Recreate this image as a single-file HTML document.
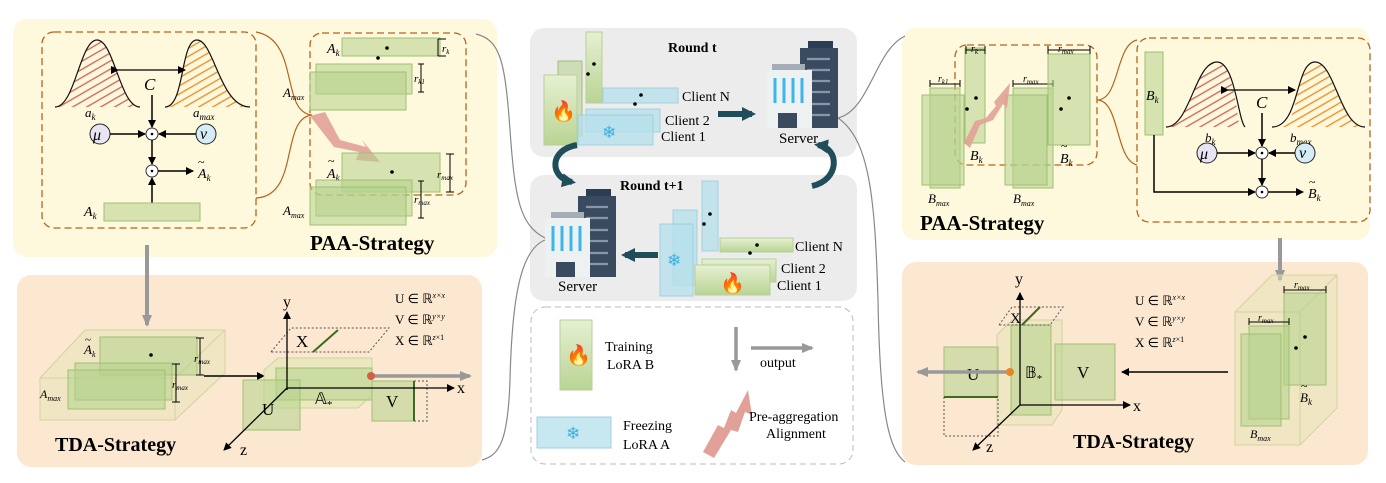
<!DOCTYPE html>
<html><head><meta charset="utf-8"><style>
html,body{margin:0;padding:0;background:#fff;}
svg{display:block;font-family:"Liberation Serif",serif;}
.g{fill:#b5d28c;fill-opacity:.55;stroke:#9fc072;stroke-width:1;}
.b{fill:#b5e0ec;fill-opacity:.75;stroke:#9fd0e0;stroke-width:1;}
.it{font-style:italic;}
</style></head><body>
<svg width="1386" height="483" viewBox="0 0 1386 483" xmlns="http://www.w3.org/2000/svg">
<defs>
<marker id="ah" markerWidth="8" markerHeight="8" refX="7" refY="4" orient="auto" markerUnits="userSpaceOnUse"><path d="M0,0 L8,4 L0,8 z" fill="#000"/></marker>
<marker id="ahg" markerWidth="12" markerHeight="10" refX="10" refY="5" orient="auto" markerUnits="userSpaceOnUse"><path d="M0,0 L12,5 L0,10 z" fill="#999"/></marker>
<marker id="aht" markerWidth="14" markerHeight="14" refX="10" refY="7" orient="auto" markerUnits="userSpaceOnUse"><path d="M0,0 L14,7 L0,14 z" fill="#1f4e5a"/></marker>
<pattern id="hr" width="7" height="7" patternUnits="userSpaceOnUse" patternTransform="rotate(-30)"><line x1="0" y1="3" x2="7" y2="3" stroke="#d0605a" stroke-width="1.3"/></pattern>
<pattern id="ho" width="7" height="7" patternUnits="userSpaceOnUse" patternTransform="rotate(-30)"><line x1="0" y1="3" x2="7" y2="3" stroke="#f08a20" stroke-width="1.3"/></pattern>
<linearGradient id="gg" x1="0" y1="0" x2="0" y2="1"><stop offset="0" stop-color="#e6f0d2"/><stop offset="1" stop-color="#b9d494"/></linearGradient>
</defs>

<!-- panels -->
<rect x="13" y="19" width="484" height="238" rx="14" fill="#fef8dc"/>
<rect x="17" y="275" width="465" height="192" rx="14" fill="#fce8d0"/>
<rect x="530" y="28" width="327" height="129" rx="14" fill="#ececec"/>
<rect x="530" y="175" width="327" height="126" rx="14" fill="#ececec"/>
<rect x="531" y="307" width="322" height="157" rx="14" fill="none" stroke="#bbb" stroke-dasharray="6,4"/>
<rect x="902" y="28" width="468" height="212" rx="14" fill="#fef8dc"/>
<rect x="902" y="262" width="466" height="203" rx="14" fill="#fce8d0"/>

<!-- gray connectors -->
<path d="M476,34 C500,40 505,60 510,130 C515,200 520,225 545,238" fill="none" stroke="#888" stroke-width="1.2"/>
<path d="M545,240 C520,250 512,300 510,380 C508,440 500,455 482,460" fill="none" stroke="#888" stroke-width="1.2"/>
<path d="M838,118 C870,110 875,50 905,36" fill="none" stroke="#888" stroke-width="1.2"/>
<path d="M838,118 C870,140 875,200 878,300 C880,420 890,450 905,462" fill="none" stroke="#888" stroke-width="1.2"/>

<!-- LEFT TOP -->
<rect x="42" y="32" width="214" height="196" rx="12" fill="none" stroke="#b5651d" stroke-width="1.3" stroke-dasharray="7,4"/>
<path d="M55,107 C75,107 80,40 97,40 C114,40 120,107 140,107 Z" fill="url(#hr)"/>
<path d="M55,107 C75,107 80,40 97,40 C114,40 120,107 140,107" fill="none" stroke="#111" stroke-width="1.2"/>
<path d="M165,107 C185,107 180,40 197,40 C214,40 220,107 250,107 Z" fill="url(#ho)"/>
<path d="M165,107 C185,107 180,40 197,40 C214,40 220,107 250,107" fill="none" stroke="#111" stroke-width="1.2"/>
<line x1="118" y1="70" x2="185" y2="70" stroke="#000" stroke-width="1.3" marker-end="url(#ah)" marker-start="url(#ah)"/>
<text x="144" y="90" font-size="17" class="it">C</text>
<text x="85" y="117" font-size="13" class="it">a<tspan font-size="9" dy="3">k</tspan></text>
<text x="193" y="117" font-size="13" class="it">a<tspan font-size="9" dy="3">max</tspan></text>
<line x1="152" y1="95" x2="152" y2="127" stroke="#000" stroke-width="1.5" marker-end="url(#ah)"/>
<circle cx="100" cy="134" r="10" fill="#e8e4f4" stroke="#222"/><text x="93" y="140" font-size="16" class="it">μ</text>
<circle cx="206" cy="134" r="10" fill="#d6ecf6" stroke="#222"/><text x="200" y="139" font-size="16" class="it">ν</text>
<line x1="110" y1="134" x2="145" y2="134" stroke="#000" stroke-width="1.5" marker-end="url(#ah)"/>
<line x1="196" y1="134" x2="159" y2="134" stroke="#000" stroke-width="1.5" marker-end="url(#ah)"/>
<circle cx="152" cy="134" r="6" fill="#fff" stroke="#333"/><circle cx="152" cy="134" r="1.3"/>
<line x1="152" y1="140" x2="152" y2="164" stroke="#000" stroke-width="1.5" marker-end="url(#ah)"/>
<circle cx="152" cy="171" r="6" fill="#fff" stroke="#333"/><circle cx="152" cy="171" r="1.3"/>
<line x1="158" y1="171" x2="193" y2="171" stroke="#000" stroke-width="1.5" marker-end="url(#ah)"/>
<text x="198" y="178" font-size="14" class="it">A<tspan font-size="9" dy="3">k</tspan></text><text x="198" y="166" font-size="12">~</text>
<line x1="152" y1="203" x2="152" y2="178" stroke="#000" stroke-width="1.5" marker-end="url(#ah)"/>
<rect x="104" y="203" width="96" height="18" class="g"/>
<text x="84" y="216" font-size="14" class="it">A<tspan font-size="9" dy="3">k</tspan></text>
<path d="M256,32 C300,40 280,112 312,115 C280,118 300,196 256,198" fill="none" stroke="#b5651d" stroke-width="1.2"/>
<rect x="310" y="33" width="156" height="162" rx="12" fill="none" stroke="#b5651d" stroke-width="1.3" stroke-dasharray="7,4"/>
<rect x="342" y="38" width="98" height="18" class="g"/>
<text x="327" y="53" font-size="14" class="it">A<tspan font-size="9" dy="3">k</tspan></text>
<circle cx="387" cy="48" r="1.8"/><circle cx="378" cy="58" r="1.8"/>
<path d="M438,39v17M438,39h8M438,56h8" stroke="#000" fill="none"/><text x="442" y="52" font-size="11" class="it">r<tspan font-size="7" dy="2">k</tspan></text>
<rect x="316" y="64" width="96" height="30" class="g"/><rect x="310" y="72" width="96" height="38" class="g"/>
<path d="M418,64h6M421,64v28M418,92h6" stroke="#000" fill="none"/><text x="414" y="82" font-size="11" class="it">r<tspan font-size="7" dy="2">k1</tspan></text>
<text x="283" y="97" font-size="13" class="it">A<tspan font-size="8" dy="3">max</tspan></text>
<path d="M310,116 L325,112 L340,140 L366,147 L362,140 L380,162 L356,160 L359,152 L334,147 Z" fill="#e2a198" opacity=".9"/>
<rect x="342" y="153" width="98" height="39" class="g"/><circle cx="392" cy="172" r="1.8"/>
<text x="327" y="178" font-size="14" class="it">A<tspan font-size="9" dy="3">k</tspan></text><text x="328" y="165" font-size="12">~</text>
<path d="M446,154h8M450,154v38M446,192h8" stroke="#000" fill="none"/><text x="437" y="178" font-size="11" class="it">r<tspan font-size="7" dy="2">max</tspan></text>
<rect x="316" y="180" width="96" height="36" class="g"/><rect x="310" y="187" width="96" height="38" class="g"/>
<path d="M418,181h6M421,181v37M418,218h6" stroke="#000" fill="none"/><text x="414" y="203" font-size="11" class="it">r<tspan font-size="7" dy="2">max</tspan></text>
<text x="283" y="215" font-size="13" class="it">A<tspan font-size="8" dy="3">max</tspan></text>
<text x="310" y="250" font-size="21" font-weight="bold">PAA-Strategy</text>
<line x1="147" y1="245" x2="147" y2="325" stroke="#999" stroke-width="4" marker-end="url(#ahg)"/>

<!-- LEFT BOTTOM -->
<path d="M40,378 L85,330 L225,330 L225,373 L175,420 L40,420 Z" fill="#e4e4b6" fill-opacity=".5" stroke="#d2d2a0"/>
<path d="M40,378 H175 V420 M175,378 L225,330" fill="none" stroke="#d2d2a0"/>
<rect x="100" y="337" width="97" height="38" class="g"/>
<rect x="75" y="363" width="97" height="37" class="g"/><rect x="68" y="370" width="97" height="39" class="g"/>
<circle cx="151" cy="355" r="1.8"/>
<text x="84" y="354" font-size="13" class="it">A<tspan font-size="8" dy="3">k</tspan></text><text x="85" y="343" font-size="11">~</text>
<text x="40" y="398" font-size="12" class="it">A<tspan font-size="8" dy="3">max</tspan></text>
<path d="M196,338h8M200,338v37M196,375h8" stroke="#000" fill="none"/><text x="194" y="362" font-size="11" class="it">r<tspan font-size="7" dy="2">max</tspan></text>
<path d="M172,364h8M176,364v38M172,402h8" stroke="#000" fill="none"/><text x="172" y="388" font-size="11" class="it">r<tspan font-size="7" dy="2">max</tspan></text>
<line x1="204" y1="376" x2="264" y2="376" stroke="#000" stroke-width="1.5" marker-end="url(#ah)"/>
<path d="M264,370 L278,358 L372,358 L372,395 L358,408 L264,408 Z" fill="#dfe7b4" fill-opacity=".6" stroke="#cbd6a0"/>
<rect x="276" y="368" width="96" height="32" class="g"/>
<path d="M271,352 L291,328 L389,328 L369,352 Z" fill="none" stroke="#555" stroke-dasharray="2,2"/>
<line x1="313" y1="352" x2="338" y2="330" stroke="#3a6b1f" stroke-width="2"/>
<text x="296" y="347" font-size="17">X</text>
<rect x="243" y="380" width="57" height="50" class="g"/>
<rect x="372" y="381" width="42" height="40" class="g"/>
<path d="M414,381 H427 V421 H414" fill="none" stroke="#555" stroke-dasharray="2,2"/>
<line x1="414" y1="381" x2="414" y2="421" stroke="#3a6b1f" stroke-width="2"/>
<line x1="287" y1="390" x2="287" y2="312" stroke="#000" stroke-width="1.3" marker-end="url(#ah)"/>
<text x="283" y="307" font-size="16">y</text>
<line x1="287" y1="388" x2="454" y2="388" stroke="#000" stroke-width="1.3" marker-end="url(#ah)"/>
<text x="457" y="393" font-size="16">x</text>
<line x1="287" y1="388" x2="224" y2="450" stroke="#000" stroke-width="1.3" marker-end="url(#ah)"/>
<text x="240" y="455" font-size="16">z</text>
<text x="315" y="404" font-size="16">𝔸<tspan font-size="11" dy="4">*</tspan></text>
<text x="262" y="415" font-size="17">U</text><text x="386" y="407" font-size="17">V</text>
<line x1="371" y1="376" x2="470" y2="376" stroke="#999" stroke-width="3.5" marker-end="url(#ahg)"/>
<circle cx="371" cy="376" r="4" fill="#d0604a"/>
<text x="395" y="303" font-size="13">U ∈ ℝ<tspan font-size="8" dy="-5" class="it">x×x</tspan></text>
<text x="395" y="324" font-size="13">V ∈ ℝ<tspan font-size="8" dy="-5" class="it">y×y</tspan></text>
<text x="395" y="345" font-size="13">X ∈ ℝ<tspan font-size="8" dy="-5"><tspan class="it">z</tspan>×1</tspan></text>
<text x="55" y="451" font-size="20" font-weight="bold">TDA-Strategy</text>

<!-- CENTER Round t -->
<text x="668" y="52" font-size="14" font-weight="bold">Round t</text>
<rect x="558" y="61" width="24" height="75" class="g" fill="url(#gg)"/>
<rect x="586" y="32" width="16" height="71" fill="url(#gg)" stroke="#b7cf98"/>
<circle cx="594" cy="64" r="1.8"/><circle cx="588" cy="74" r="1.8"/>
<rect x="544" y="75" width="33" height="70" fill="url(#gg)" stroke="#b7cf98"/>
<text x="551" y="118" font-size="20" fill="#f05a24">🔥</text>
<rect x="603" y="88" width="75" height="15" class="b"/>
<circle cx="641" cy="95" r="1.8"/><circle cx="635" cy="104" r="1.8"/>
<rect x="586" y="109" width="74" height="23" class="b"/><rect x="578" y="115" width="75" height="30" class="b"/>
<text x="602" y="138" font-size="17" fill="#3ab0e0">❄</text>
<text x="682" y="101" font-size="14">Client N</text>
<text x="665" y="125" font-size="14">Client 2</text>
<text x="661" y="141" font-size="14">Client 1</text>
<line x1="718" y1="114" x2="752" y2="114" stroke="#1f4e5a" stroke-width="6" marker-end="url(#aht)"/>
<!-- server t -->
<rect x="808" y="41" width="25" height="8" fill="#2b3d52"/>
<rect x="800" y="48" width="38" height="80" fill="#3a4b60"/>
<g stroke="#8796a8" stroke-width="2.2"><line x1="807" y1="59" x2="830" y2="59"/><line x1="807" y1="70" x2="830" y2="70"/><line x1="807" y1="81" x2="830" y2="81"/><line x1="807" y1="92" x2="830" y2="92"/><line x1="807" y1="104" x2="830" y2="104"/><line x1="807" y1="115" x2="830" y2="115"/></g>
<rect x="772" y="64" width="33" height="7" fill="#a5adb6"/>
<rect x="767" y="70" width="45" height="58" fill="#eef1f2"/>
<g stroke="#3bb6ea" stroke-width="3"><line x1="775" y1="78" x2="775" y2="103"/><line x1="784" y1="78" x2="784" y2="103"/><line x1="793" y1="78" x2="793" y2="103"/><line x1="802" y1="78" x2="802" y2="103"/></g>
<rect x="778" y="113" width="19" height="15" fill="#3a4b60"/>
<text x="779" y="143" font-size="15">Server</text>
<!-- curved arrows -->
<path d="M577,145 C548,150 550,178 572,182" fill="none" stroke="#1f4e5a" stroke-width="6" marker-end="url(#aht)"/>
<path d="M812,186 C840,180 840,148 818,145" fill="none" stroke="#1f4e5a" stroke-width="6" marker-end="url(#aht)"/>

<!-- Round t+1 -->
<text x="620" y="190" font-size="14" font-weight="bold">Round t+1</text>
<rect x="586" y="189" width="25" height="8" fill="#2b3d52"/>
<rect x="578" y="196" width="38" height="81" fill="#3a4b60"/>
<g stroke="#8796a8" stroke-width="2.2"><line x1="586" y1="207" x2="608" y2="207"/><line x1="586" y1="218" x2="608" y2="218"/><line x1="586" y1="230" x2="608" y2="230"/><line x1="586" y1="241" x2="608" y2="241"/><line x1="586" y1="253" x2="608" y2="253"/><line x1="586" y1="264" x2="608" y2="264"/></g>
<rect x="551" y="212" width="33" height="7" fill="#a5adb6"/>
<rect x="545" y="218" width="45" height="59" fill="#eef1f2"/>
<g stroke="#3bb6ea" stroke-width="3"><line x1="553" y1="226" x2="553" y2="251"/><line x1="562" y1="226" x2="562" y2="251"/><line x1="571" y1="226" x2="571" y2="251"/><line x1="580" y1="226" x2="580" y2="251"/></g>
<rect x="556" y="262" width="19" height="15" fill="#3a4b60"/>
<text x="558" y="291" font-size="15">Server</text>
<line x1="658" y1="255" x2="625" y2="255" stroke="#1f4e5a" stroke-width="6" marker-end="url(#aht)"/>
<rect x="673" y="210" width="24" height="75" class="b"/>
<rect x="702" y="181" width="16" height="70" class="b"/>
<circle cx="710" cy="214" r="1.8"/><circle cx="704" cy="224" r="1.8"/>
<rect x="660" y="224" width="33" height="72" class="b"/>
<text x="667" y="266" font-size="17" fill="#3ab0e0">❄</text>
<rect x="720" y="238" width="73" height="14" fill="url(#gg)" stroke="#b7cf98"/>
<circle cx="757" cy="245" r="1.8"/><circle cx="750" cy="253" r="1.8"/>
<rect x="702" y="259" width="74" height="23" fill="url(#gg)" stroke="#b7cf98"/>
<rect x="695" y="265" width="75" height="30" fill="url(#gg)" stroke="#b7cf98"/>
<text x="720" y="290" font-size="20" fill="#f05a24">🔥</text>
<text x="795" y="251" font-size="14">Client N</text>
<text x="781" y="273" font-size="14">Client 2</text>
<text x="777" y="290" font-size="14">Client 1</text>

<!-- legend -->
<rect x="560" y="320" width="32" height="70" fill="url(#gg)" stroke="#b7cf98"/>
<text x="566" y="362" font-size="20" fill="#f05a24">🔥</text>
<text x="605" y="351" font-size="14">Training</text><text x="607" y="369" font-size="14">LoRA B</text>
<rect x="537" y="417" width="74" height="31" class="b"/>
<text x="566" y="439" font-size="17" fill="#3ab0e0">❄</text>
<text x="623" y="430" font-size="14">Freezing</text><text x="623" y="449" font-size="14">LoRA A</text>
<line x1="736" y1="327" x2="736" y2="370" stroke="#999" stroke-width="3.5" marker-end="url(#ahg)"/>
<line x1="751" y1="348" x2="812" y2="348" stroke="#999" stroke-width="3.5" marker-end="url(#ahg)"/>
<text x="760" y="367" font-size="14">output</text>
<path d="M703,452 L718,425 L724,428 L731,410 L736,413 L748,390 L752,415 L745,412 L738,432 L731,430 L714,458 Z" fill="#e2a198"/>
<text x="749" y="421" font-size="14">Pre-aggregation</text><text x="766" y="438" font-size="14">Alignment</text>

<!-- RIGHT TOP -->
<rect x="955" y="45" width="142" height="120" rx="12" fill="none" stroke="#b5651d" stroke-width="1.3" stroke-dasharray="7,4"/>
<rect x="930" y="88" width="30" height="100" class="g"/><rect x="922" y="95" width="42" height="90" class="g"/>
<path d="M930,80v7M930,84h30M960,80v7" stroke="#000" fill="none"/><text x="938" y="82" font-size="10" class="it">r<tspan font-size="7" dy="2">k1</tspan></text>
<rect x="965" y="48" width="20" height="95" class="g"/>
<path d="M966,46v8M966,50h19M985,46v8" stroke="#000" fill="none"/><text x="971" y="52" font-size="10" class="it">r<tspan font-size="7" dy="2">k</tspan></text>
<circle cx="976" cy="98" r="1.8"/><circle cx="967" cy="109" r="1.8"/>
<rect x="1013" y="88" width="40" height="100" class="g"/><rect x="1005" y="95" width="42" height="90" class="g"/>
<path d="M1013,80v7M1013,84h40M1053,80v7" stroke="#000" fill="none"/><text x="1023" y="82" font-size="10" class="it">r<tspan font-size="7" dy="2">max</tspan></text>
<rect x="1048" y="54" width="42" height="91" class="g"/>
<path d="M1048,46v8M1048,50h42M1090,46v8" stroke="#000" fill="none"/><text x="1058" y="52" font-size="10" class="it">r<tspan font-size="7" dy="2">max</tspan></text>
<circle cx="1069" cy="98" r="1.8"/><circle cx="1061" cy="109" r="1.8"/>
<path d="M964,143 L975,121 L986,118 L996,106 L994,102 L1010,83 L1007,108 L1003,104 L993,120 L980,125 L970,148 Z" fill="#e2a198" opacity=".9"/>
<text x="970" y="160" font-size="14" class="it">B<tspan font-size="9" dy="3">k</tspan></text>
<text x="1060" y="163" font-size="14" class="it">B<tspan font-size="9" dy="3">k</tspan></text><text x="1061" y="150" font-size="12">~</text>
<text x="928" y="203" font-size="13" class="it">B<tspan font-size="8" dy="3">max</tspan></text>
<text x="1013" y="203" font-size="13" class="it">B<tspan font-size="8" dy="3">max</tspan></text>
<text x="920" y="230" font-size="21" font-weight="bold">PAA-Strategy</text>
<path d="M1097,100 C1120,100 1115,45 1137,40 M1097,100 C1120,100 1115,160 1137,165" fill="none" stroke="#b5651d" stroke-width="1.2"/>
<rect x="1137" y="38" width="233" height="184" rx="12" fill="none" stroke="#b5651d" stroke-width="1.3" stroke-dasharray="7,4"/>
<rect x="1145" y="52" width="18" height="83" class="g"/>
<text x="1146" y="100" font-size="14" class="it">B<tspan font-size="9" dy="3">k</tspan></text>
<path d="M1167,127 C1190,127 1195,62 1217,62 C1235,62 1238,127 1240,127 Z" fill="url(#hr)"/>
<path d="M1166,127 C1190,127 1195,62 1217,62 C1235,62 1238,120 1245,127" fill="none" stroke="#111" stroke-width="1.2"/>
<path d="M1280,127 C1300,127 1295,62 1315,62 C1335,62 1340,127 1365,127 Z" fill="url(#ho)"/>
<path d="M1272,127 C1300,127 1295,62 1315,62 C1335,62 1340,127 1365,127" fill="none" stroke="#111" stroke-width="1.2"/>
<line x1="1228" y1="90" x2="1295" y2="90" stroke="#000" stroke-width="1.3" marker-end="url(#ah)" marker-start="url(#ah)"/>
<text x="1256" y="108" font-size="17" class="it">C</text>
<text x="1205" y="142" font-size="13" class="it">b<tspan font-size="9" dy="3">k</tspan></text>
<text x="1290" y="142" font-size="13" class="it">b<tspan font-size="9" dy="3">max</tspan></text>
<line x1="1262" y1="113" x2="1262" y2="146" stroke="#000" stroke-width="1.5" marker-end="url(#ah)"/>
<circle cx="1207" cy="153" r="10" fill="#e8e4f4" stroke="#222"/><text x="1200" y="159" font-size="16" class="it">μ</text>
<circle cx="1305" cy="153" r="10" fill="#d6ecf6" stroke="#222"/><text x="1299" y="158" font-size="16" class="it">ν</text>
<line x1="1217" y1="153" x2="1255" y2="153" stroke="#000" stroke-width="1.5" marker-end="url(#ah)"/>
<line x1="1295" y1="153" x2="1269" y2="153" stroke="#000" stroke-width="1.5" marker-end="url(#ah)"/>
<circle cx="1262" cy="153" r="6" fill="#fff" stroke="#333"/><circle cx="1262" cy="153" r="1.3"/>
<line x1="1262" y1="159" x2="1262" y2="185" stroke="#000" stroke-width="1.5" marker-end="url(#ah)"/>
<polyline points="1154,135 1154,192 1255,192" fill="none" stroke="#000" stroke-width="1.5" marker-end="url(#ah)"/>
<circle cx="1262" cy="192" r="6" fill="#fff" stroke="#333"/><circle cx="1262" cy="192" r="1.3"/>
<line x1="1268" y1="192" x2="1303" y2="192" stroke="#000" stroke-width="1.5" marker-end="url(#ah)"/>
<text x="1308" y="198" font-size="14" class="it">B<tspan font-size="9" dy="3">k</tspan></text><text x="1309" y="186" font-size="12">~</text>
<line x1="1280" y1="238" x2="1280" y2="280" stroke="#999" stroke-width="4" marker-end="url(#ahg)"/>

<!-- RIGHT BOTTOM -->
<path d="M1235,312 L1272,275 L1337,275 L1337,408 L1300,445 L1235,445 Z" fill="#e4e4b6" fill-opacity=".5" stroke="#d2d2a0"/>
<path d="M1235,312 H1300 V445 M1300,312 L1337,275" fill="none" stroke="#d2d2a0"/>
<rect x="1284" y="293" width="42" height="92" class="g"/>
<rect x="1249" y="326" width="40" height="93" class="g"/><rect x="1241" y="334" width="40" height="92" class="g"/>
<circle cx="1305" cy="337" r="1.8"/><circle cx="1296" cy="348" r="1.8"/>
<path d="M1284,286v7M1284,290h42M1326,286v7" stroke="#000" fill="none"/><text x="1294" y="288" font-size="10" class="it">r<tspan font-size="7" dy="2">max</tspan></text>
<path d="M1249,318v7M1249,322h40M1289,318v7" stroke="#000" fill="none"/><text x="1258" y="321" font-size="10" class="it">r<tspan font-size="7" dy="2">max</tspan></text>
<text x="1300" y="402" font-size="13" class="it">B<tspan font-size="9" dy="3">k</tspan></text><text x="1301" y="390" font-size="12">~</text>
<text x="1250" y="438" font-size="12" class="it">B<tspan font-size="8" dy="3">max</tspan></text>
<line x1="1228" y1="372" x2="1122" y2="372" stroke="#000" stroke-width="1.5" marker-end="url(#ah)"/>
<text x="1135" y="305" font-size="13">U ∈ ℝ<tspan font-size="8" dy="-5" class="it">x×x</tspan></text>
<text x="1135" y="326" font-size="13">V ∈ ℝ<tspan font-size="8" dy="-5" class="it">y×y</tspan></text>
<text x="1135" y="347" font-size="13">X ∈ ℝ<tspan font-size="8" dy="-5"><tspan class="it">z</tspan>×1</tspan></text>
<path d="M997,335 L1012,320 L1062,320 L1062,410 L1052,425 L997,425 Z" fill="#e4e4b6" fill-opacity=".5" stroke="#d2d2a0"/>
<rect x="1011" y="325" width="40" height="90" class="g"/>
<path d="M999,325 L1012,307 L1063,307 L1050,325 Z" fill="none" stroke="#555" stroke-dasharray="2,2"/>
<line x1="1022" y1="325" x2="1040" y2="307" stroke="#3a6b1f" stroke-width="2"/>
<text x="1010" y="323" font-size="15">X</text>
<rect x="944" y="347" width="54" height="50" class="g"/>
<line x1="944" y1="397" x2="998" y2="397" stroke="#3a6b1f" stroke-width="2"/>
<path d="M944,397 V436 H998 V397" fill="none" stroke="#555" stroke-dasharray="2,2"/>
<rect x="1055" y="344" width="60" height="56" class="g"/>
<text x="967" y="380" font-size="17">U</text><text x="1077" y="378" font-size="17">V</text>
<text x="1025" y="378" font-size="16">𝔹<tspan font-size="11" dy="4">*</tspan></text>
<line x1="1020" y1="405" x2="1020" y2="293" stroke="#000" stroke-width="1.3" marker-end="url(#ah)"/>
<text x="1015" y="284" font-size="16">y</text>
<line x1="1020" y1="405" x2="1130" y2="405" stroke="#000" stroke-width="1.3" marker-end="url(#ah)"/>
<text x="1133" y="411" font-size="16">x</text>
<line x1="1020" y1="405" x2="973" y2="450" stroke="#000" stroke-width="1.3" marker-end="url(#ah)"/>
<text x="986" y="452" font-size="16">z</text>
<line x1="1010" y1="372" x2="918" y2="372" stroke="#999" stroke-width="3.5" marker-end="url(#ahg)"/>
<circle cx="1010" cy="372" r="4" fill="#e8842a"/>
<text x="1073" y="448" font-size="20" font-weight="bold">TDA-Strategy</text>
</svg>
</body></html>
